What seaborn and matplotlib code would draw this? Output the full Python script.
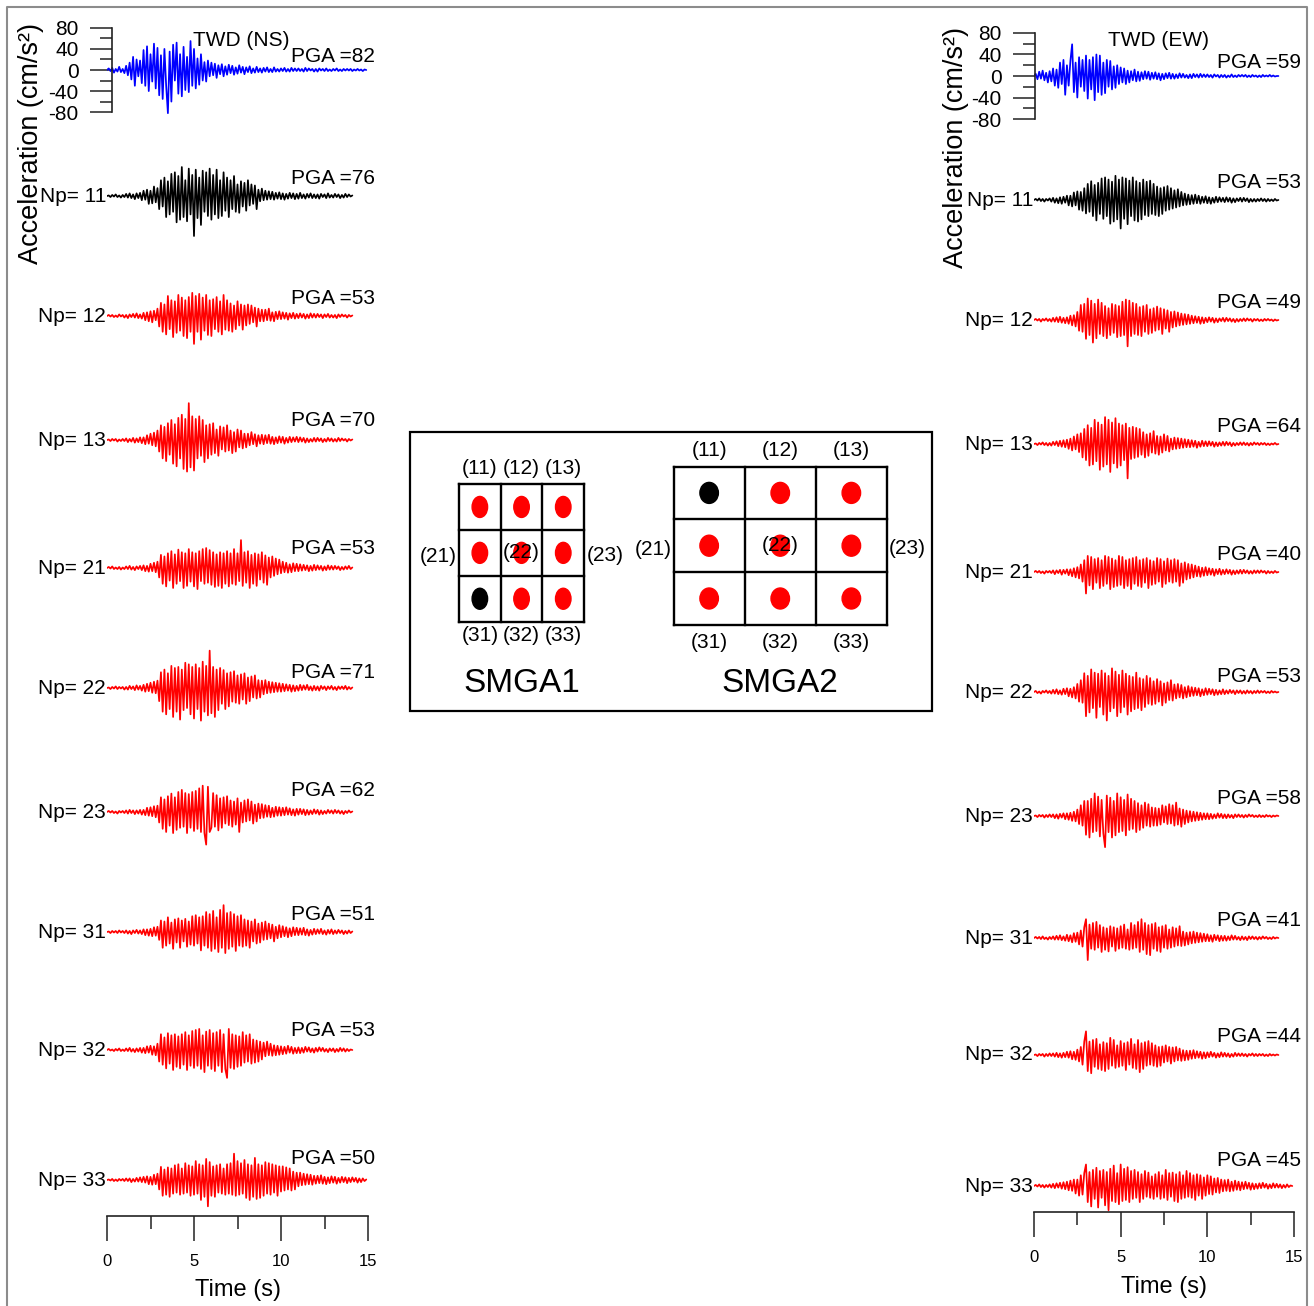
import numpy as np
import matplotlib
matplotlib.use("Agg")
import matplotlib.pyplot as plt
from matplotlib.patches import Ellipse, Rectangle
import seaborn as sns

sns.set_theme(style="white")
plt.rcParams["font.family"] = ["Liberation Sans", "DejaVu Sans"]
plt.rcParams["text.color"] = "black"
plt.rcParams["axes.unicode_minus"] = False

DT = 0.1  # sample step of the traces (s)

# -----------------------------
# NS component (left column), cm/s^2
# -----------------------------
ns_obs = [0, 3, -2, 4, -5, 2, -3, 6, -4, 2,
          -6, 8, -10, 14, -18, 25, -30, 20, -12, 18,
          -25, 38, -30, 45, -40, 30, -22, 50, -35, 42,
          -48, 28, -55, 40, -30, -82, 35, -60, 48, -20,
          52, -45, 30, -50, 44, -38, 25, -42, 55, -30,
          40, -35, 22, -28, 30, -20, 15, -22, 18, -12,
          14, -10, 12, -15, 9, -8, 11, -12, 7, -9,
          10, -6, 8, -9, 5, -7, 9, -5, 6, -8,
          5, -4, 7, -6, 3, -5, 6, -4, 3, -5,
          4, -3, 5, -4, 2, -4, 5, -3, 2, -3,
          3, -2, 4, -3, 2, -3, 4, -2, 3, -2,
          3, -2, 2, -3, 4, -2, 3, -1, 2, -3,
          2, -3, 3, -1, 2, -2, 3, -2, 1, -2,
          2, -1, 3, -2, 1, -2, 2, -1, 2, -1,
          2, -2, 1, -1, 2, -1, 1, -2, 1, 0]
ns_np11 = [0, 1, -2, 2, -1, 3, -2, 1, -3, 2,
           -2, 4, -3, 5, -4, 3, -6, 5, -4, 6,
           -8, 10, -7, 12, -15, 10, -14, 18, -12, 15,
           -25, 30, -20, 35, -40, 28, -35, 42, -30, 45,
           -50, 38, -45, 55, -40, 30, -48, 52, -35, 40,
           -76, 50, -42, 35, -55, 48, -30, 45, -38, 52,
           -45, 40, -35, 50, -42, 30, -38, 45, -28, 35,
           -40, 30, -25, 38, -30, 22, -32, 28, -20, 25,
           -28, 30, -18, 22, -15, 20, -25, 12, -10, 14,
           -8, 10, -7, 9, -6, 8, -7, 6, -5, 7,
           -6, 5, -7, 4, -5, 6, -4, 5, -6, 4,
           -5, 6, -4, 3, -5, 4, -3, 5, -4, 3,
           -4, 3, -5, 4, -2, 3, -4, 5, -3, 2,
           -3, 4, -2, 3, -4, 2, -3, 4, -2, 3, -1, 1]
ns_np12 = [0, 2, -1, 2, -2, 1, -2, 3, -1, 2,
           -3, 2, -4, 3, -2, 4, -3, 5, -4, 3,
           -5, 6, -8, 7, -10, 9, -12, 10, -8, 14,
           -20, 25, -30, 22, -35, 38, -25, 30, -40, 28,
           -32, 40, -28, 35, -38, 30, -42, 36, -30, 44,
           -53, 38, -30, 42, -45, 35, -28, 40, -36, 30,
           -38, 32, -25, 36, -30, 28, -35, 40, -26, 30,
           -28, 24, -30, 20, -25, 28, -18, 22, -26, 20,
           -18, 22, -15, 20, -12, 16, -20, 14, -10, 12,
           -10, 12, -8, 14, -9, 7, -10, 8, -6, 9,
           -6, 7, -5, 6, -7, 5, -4, 6, -5, 4,
           -4, 5, -3, 4, -5, 3, -4, 5, -3, 4,
           -3, 4, -2, 3, -4, 3, -2, 4, -3, 2,
           -3, 2, -4, 3, -2, 3, -1, 2, -3, 2, -1, 1]
ns_np13 = [0, 1, -2, 2, -1, 2, -3, 1, -2, 2,
           -2, 3, -4, 2, -3, 4, -5, 3, -4, 5,
           -6, 5, -8, 9, -7, 12, -10, 14, -12, 18,
           -22, 28, -35, 25, -40, 32, -28, 38, -45, 30,
           -50, 42, -35, 48, -55, 40, -60, 70, -52, 45,
           -58, 40, -35, 45, -30, 38, -42, 28, -35, 30,
           -28, 32, -25, 20, -30, 26, -18, 24, -22, 28,
           -20, 18, -25, 15, -22, 20, -14, 18, -16, 12,
           -14, 12, -10, 15, -8, 11, -12, 9, -7, 10,
           -8, 9, -6, 10, -7, 6, -8, 5, -6, 7,
           -5, 6, -7, 4, -5, 6, -4, 5, -3, 6,
           -4, 5, -3, 4, -5, 3, -4, 2, -3, 4,
           -3, 4, -2, 3, -4, 2, -3, 4, -2, 3,
           -3, 2, -3, 4, -2, 3, -1, 2, -3, 2, -1, 1]
ns_np21 = [0, 2, -1, 3, -2, 1, -2, 2, -3, 1,
           -2, 3, -2, 4, -3, 2, -4, 3, -2, 4,
           -4, 5, -6, 4, -7, 8, -6, 10, -8, 12,
           -18, 25, -30, 22, -35, 28, -24, 32, -38, 26,
           -30, 35, -25, 30, -38, 28, -34, 36, -26, 30,
           -35, 28, -40, 32, -25, 36, -30, 38, -28, 34,
           -32, 30, -36, 26, -34, 30, -38, 28, -30, 32,
           -35, 28, -30, 36, -32, 28, -25, 53, -34, 30,
           -28, 32, -38, 25, -30, 28, -34, 26, -22, 30,
           -28, 24, -32, 20, -18, 22, -15, 18, -12, 16,
           -10, 12, -8, 10, -9, 7, -8, 9, -6, 8,
           -6, 7, -5, 6, -4, 5, -6, 4, -5, 6,
           -4, 5, -3, 4, -5, 3, -4, 5, -3, 4,
           -3, 4, -2, 3, -4, 2, -3, 3, -2, 4, -2, 1]
ns_np22 = [0, 1, -2, 2, -1, 3, -2, 2, -1, 2,
           -3, 2, -3, 4, -2, 3, -4, 5, -3, 4,
           -5, 6, -7, 8, -6, 10, -9, 12, -10, 14,
           -25, 30, -45, 35, -50, 28, -40, 42, -55, 38,
           -45, 40, -60, 35, -42, 48, -38, 45, -50, 40,
           -58, 45, -40, 38, -62, 50, -45, 42, -52, 71,
           -48, 40, -55, 35, -42, 38, -30, 34, -40, 28,
           -35, 30, -26, 32, -28, 24, -30, 26, -22, 28,
           -30, 20, -25, 22, -18, 24, -20, 15, -18, 14,
           -12, 15, -10, 12, -9, 11, -8, 10, -7, 9,
           -7, 8, -6, 7, -5, 6, -7, 5, -6, 4,
           -5, 6, -4, 5, -3, 6, -4, 3, -5, 4,
           -4, 3, -5, 4, -2, 3, -4, 3, -2, 4,
           -3, 2, -4, 3, -2, 3, -2, 4, -3, 2, -2, 1]
ns_np23 = [0, 2, -1, 2, -2, 1, -3, 2, -1, 2,
           -2, 3, -3, 4, -2, 3, -4, 3, -3, 4,
           -5, 4, -6, 8, -7, 9, -8, 11, -10, 12,
           -20, 28, -32, 24, -38, 30, -26, 35, -40, 28,
           -34, 38, -30, 42, -28, 36, -40, 34, -30, 38,
           -36, 40, -32, 45, -38, 50, -40, -62, 48, -38,
           -30, 36, -28, 32, -35, 26, -30, 28, -22, 30,
           -25, 22, -28, 20, -24, 26, -38, 18, -20, 22,
           -18, 24, -16, 20, -22, 14, -18, 16, -12, 15,
           -11, 13, -9, 12, -10, 8, -9, 10, -7, 9,
           -7, 8, -6, 9, -5, 7, -6, 5, -7, 6,
           -5, 6, -4, 5, -6, 4, -5, 3, -4, 5,
           -3, 4, -5, 3, -4, 2, -3, 4, -2, 3,
           -3, 4, -2, 3, -3, 2, -4, 2, -2, 3, -1, 1]
ns_np31 = [0, 1, -2, 2, -1, 2, -2, 3, -1, 2,
           -2, 3, -3, 2, -4, 3, -2, 4, -3, 3,
           -4, 5, -6, 5, -7, 6, -8, 9, -7, 10,
           -15, 22, -30, 20, -26, 28, -22, 18, -32, 24,
           -20, 26, -30, 22, -18, 25, -28, 20, -24, 30,
           -26, 32, -22, 28, -35, 30, -26, 38, -30, 34,
           -36, 40, -32, 28, -38, 42, -30, 51, -40, 36,
           -32, 38, -28, 34, -36, 30, -26, 32, -28, 24,
           -26, 22, -30, 20, -18, 24, -22, 16, -20, 18,
           -15, 20, -14, 16, -12, 14, -18, 10, -12, 13,
           -10, 11, -8, 9, -10, 7, -8, 9, -6, 8,
           -6, 7, -5, 8, -6, 5, -7, 4, -5, 6,
           -4, 5, -3, 6, -4, 3, -5, 4, -3, 5,
           -4, 3, -3, 4, -2, 3, -4, 2, -3, 3, -2, 1]
ns_np32 = [0, 2, -1, 1, -2, 2, -1, 3, -2, 1,
           -2, 3, -2, 4, -3, 2, -4, 3, -3, 4,
           -5, 4, -6, 7, -5, 8, -9, 7, -10, 12,
           -22, 30, -28, 24, -35, 32, -26, 28, -38, 30,
           -32, 26, -35, 30, -28, 34, -38, 28, -30, 36,
           -34, 38, -30, 40, -36, 28, -42, 35, -30, 38,
           -36, 32, -40, 34, -30, 38, -42, 30, -36, -53,
           40, -34, 30, -36, 28, -32, 26, -30, 34, -24,
           28, -22, 30, -26, 20, -24, 18, -22, 16, -18,
           14, -12, 16, -10, 12, -11, 9, -10, 8, -9,
           7, -8, 6, -7, 8, -5, 6, -7, 4, -6,
           5, -6, 4, -5, 6, -3, 5, -4, 3, -5,
           4, -3, 5, -2, 4, -3, 2, -4, 3, -2,
           3, -4, 2, -3, 4, -2, 3, -3, 2, -2, 1, 0]
ns_np33 = [0, 1, -1, 2, -2, 1, -2, 2, -1, 2,
           -2, 3, -2, 3, -4, 2, -3, 4, -3, 5,
           -4, 6, -5, 7, -8, 6, -9, 10, -8, 12,
           -18, 25, -30, 20, -28, 24, -32, 22, -26, 28,
           -24, 30, -28, 22, -26, 32, -24, 28, -30, 26,
           -28, 36, -26, 30, -38, 28, -32, 40, -50, 34,
           -30, 26, -32, 28, -24, 30, -26, 22, -28, 30,
           -26, 32, -28, 50, -30, 36, -28, 32, -26, 38,
           -34, 30, -38, 28, -32, 42, -36, 30, -34, 28,
           -30, 34, -26, 32, -28, 30, -24, 28, -30, 26,
           -22, 26, -20, 24, -18, 22, -20, 16, -18, 14,
           -12, 14, -10, 12, -9, 11, -8, 10, -9, 8,
           -7, 8, -6, 9, -7, 6, -8, 5, -6, 7,
           -5, 6, -7, 4, -5, 6, -4, 5, -6, 4,
           -4, 5, -3, 4, -5, 3, -4, 3, -2, 1]

# -----------------------------
# EW component (right column), cm/s^2
# -----------------------------
ew_obs = [0, 4, -6, 8, -5, 10, -8, 6, -12, 9,
          -10, 14, -18, 12, -22, 25, -15, 30, -35, 20,
          -18, 28, 59, -30, 25, -40, 35, -20, 30, -28,
          38, -42, 30, -25, 35, -45, 40, -30, 38, -35,
          25, -32, 30, -20, 28, -25, 18, -22, 20, -15,
          16, -12, 14, -15, 10, -12, 9, -8, 12, -10,
          8, -9, 7, -6, 9, -5, 8, -7, 6, -5,
          7, -6, 5, -8, 4, -6, 5, -4, 6, -5,
          4, -5, 3, -4, 5, -3, 4, -3, 2, -4,
          3, -4, 4, -2, 3, -3, 4, -2, 3, -2,
          3, -2, 2, -3, 3, -1, 2, -3, 2, -2,
          2, -3, 1, -2, 3, -2, 1, -2, 2, -1,
          2, -1, 2, -2, 1, -2, 2, -1, 1, -2,
          1, -2, 2, -1, 1, -1, 2, -1, 1, -1, 0, 0]
ew_np11 = [0, 2, -1, 3, -2, 2, -3, 2, -1, 3,
           -3, 4, -5, 3, -6, 5, -7, 6, -5, 8,
           -10, 8, -12, 14, -10, 16, -18, 15, -20, 22,
           -25, 30, -22, 35, -30, 28, -38, 32, -26, 40,
           -35, 42, -30, 38, -44, 34, -40, 45, -36, 38,
           -53, 42, -35, 40, -45, 36, -30, 42, -38, 35,
           -40, 32, -36, 38, -28, 34, -30, 36, -26, 30,
           -28, 25, -30, 22, -26, 24, -20, 26, -18, 22,
           -16, 18, -14, 20, -12, 15, -10, 12, -9, 10,
           -8, 9, -7, 10, -6, 8, -7, 6, -5, 7,
           -6, 5, -7, 4, -5, 6, -4, 5, -3, 4,
           -4, 5, -3, 4, -5, 3, -4, 3, -2, 4,
           -3, 4, -2, 3, -4, 2, -3, 2, -3, 2,
           -2, 3, -2, 2, -3, 2, -2, 1, -2, 2, -1, 0]
ew_np12 = [0, 2, -1, 2, -3, 2, -1, 3, -2, 2,
           -3, 4, -3, 5, -4, 6, -5, 4, -6, 5,
           -7, 8, -10, 9, -12, 15, -20, 28, -22, 30,
           -35, 40, -28, 36, -42, 30, -34, 38, -26, 32,
           -30, 26, -34, 22, -28, 30, -24, 28, -32, 26,
           -30, 34, -28, 38, -49, 36, -30, 32, -26, 30,
           -28, 24, -30, 26, -22, 28, -26, 20, -24, 22,
           -20, 25, -18, 22, -26, 20, -16, 18, -22, 15,
           -14, 16, -12, 14, -10, 12, -9, 11, -8, 10,
           -7, 8, -6, 7, -5, 6, -7, 5, -6, 4,
           -4, 5, -3, 4, -5, 3, -4, 3, -2, 4,
           -3, 4, -2, 3, -3, 2, -4, 2, -3, 2,
           -2, 3, -2, 3, -1, 2, -3, 2, -1, 2,
           -2, 1, -2, 2, -1, 2, -1, 1, -2, 1, -1, 0]
ew_np13 = [0, 1, -2, 2, -1, 3, -2, 2, -3, 2,
           -3, 4, -2, 5, -4, 6, -5, 7, -6, 8,
           -9, 10, -12, 14, -10, 18, -15, 20, -25, 28,
           -30, 35, -40, 30, -38, 45, -32, 40, -48, 36,
           -42, 50, -38, 45, -52, 40, -36, 48, -44, 38,
           -40, 35, -30, 38, -64, 30, -28, 32, -26, 30,
           -24, 28, -20, 22, -25, 18, -22, 20, -16, 24,
           -18, 15, -20, 14, -16, 18, -12, 15, -14, 10,
           -10, 12, -9, 11, -8, 10, -7, 9, -6, 8,
           -6, 7, -5, 6, -7, 4, -5, 6, -4, 5,
           -4, 5, -3, 4, -5, 3, -4, 3, -3, 4,
           -3, 4, -2, 3, -4, 2, -3, 2, -2, 3,
           -2, 3, -2, 2, -3, 2, -2, 3, -1, 2,
           -2, 2, -1, 2, -2, 1, -2, 1, -1, 2, -1, 0]
ew_np21 = [0, 2, -1, 2, -2, 1, -3, 2, -1, 2,
           -2, 3, -4, 3, -2, 4, -5, 4, -3, 5,
           -6, 5, -8, 7, -10, 9, -12, 14, -18, 22,
           -40, 30, -25, 28, -32, 24, -20, 26, -30, 22,
           -26, 30, -22, 28, -32, 25, -28, 22, -26, 30,
           -24, 28, -30, 22, -26, 24, -32, 26, -22, 28,
           -26, 22, -28, 24, -20, 26, -30, 22, -24, 20,
           -22, 26, -18, 24, -28, 20, -22, 25, -18, 22,
           -20, 24, -18, 22, -26, 16, -20, 18, -14, 15,
           -12, 14, -10, 12, -8, 10, -9, 8, -7, 9,
           -6, 7, -5, 6, -7, 5, -4, 6, -5, 4,
           -4, 5, -3, 4, -5, 3, -4, 3, -3, 4,
           -3, 4, -2, 3, -3, 2, -3, 3, -2, 3,
           -2, 3, -1, 2, -3, 2, -2, 1, -2, 2, -1, 0]
ew_np22 = [0, 2, -2, 1, -3, 2, -1, 3, -2, 2,
           -3, 4, -3, 5, -4, 3, -5, 6, -4, 7,
           -8, 6, -10, 9, -12, 15, -18, 22, -20, 35,
           -45, 30, -38, 42, -30, 36, -48, 34, -28, 40,
           -42, 35, -53, 30, -36, 44, -30, 38, -45, 32,
           -38, 40, -28, 34, -42, 30, -36, 28, -32, 36,
           -30, 26, -34, 24, -28, 30, -22, 26, -24, 20,
           -22, 24, -18, 20, -25, 16, -20, 18, -15, 22,
           -16, 14, -12, 15, -10, 13, -12, 9, -10, 11,
           -8, 9, -7, 8, -6, 7, -8, 5, -6, 7,
           -5, 6, -4, 5, -6, 4, -5, 3, -4, 5,
           -4, 3, -3, 4, -2, 3, -4, 3, -2, 3,
           -3, 2, -3, 3, -2, 2, -3, 2, -2, 3,
           -2, 2, -1, 2, -2, 1, -2, 2, -1, 1, -1, 0]
ew_np23 = [0, 1, -2, 2, -1, 2, -3, 2, -2, 3,
           -2, 3, -4, 3, -5, 4, -3, 5, -6, 5,
           -7, 6, -9, 8, -10, 12, -15, 20, -18, 28,
           -35, 28, -40, 32, -30, 42, -28, 36, -38, 30,
           -32, -58, 38, -30, 34, -40, 28, -36, 42, -30,
           35, -28, 30, -36, 40, -26, 32, -24, 28, -30,
           24, -26, 20, -22, 25, -18, 22, -20, 16, -18,
           15, -18, 14, -16, 20, -12, 18, -15, 22, -14,
           20, -18, 25, -16, 14, -20, 12, -15, 10, -12,
           9, -10, 8, -9, 7, -8, 6, -7, 5, -6,
           5, -6, 4, -5, 3, -4, 5, -3, 4, -4,
           3, -4, 3, -3, 2, -4, 3, -2, 3, -2,
           2, -3, 2, -2, 3, -1, 2, -2, 1, -2,
           2, -2, 1, -2, 2, -1, 1, -2, 1, -1, 1, 0]
ew_np31 = [0, 2, -1, 2, -2, 3, -2, 1, -3, 2,
           -2, 3, -3, 4, -3, 5, -4, 3, -5, 6,
           -6, 5, -8, 9, -7, 10, -12, 14, -16, 20,
           35, -41, 25, -20, 28, -22, 30, -18, 24, -26,
           20, -22, 18, -25, 22, -16, 20, -24, 18, -20,
           22, -18, 25, -20, 16, -22, 28, -20, 24, -18,
           30, -26, 35, -22, 28, -30, 24, -32, 26, -20,
           28, -24, 20, -26, 22, -18, 24, -20, 16, -18,
           20, -16, 18, -14, 22, -15, 12, -14, 10, -12,
           11, -10, 12, -9, 10, -8, 9, -7, 8, -6,
           7, -6, 5, -7, 6, -4, 5, -6, 4, -5,
           4, -5, 3, -4, 5, -3, 4, -3, 2, -4,
           3, -3, 2, -4, 3, -2, 3, -2, 2, -3,
           2, -2, 3, -1, 2, -2, 1, -2, 2, -1, 1, 0]
ew_np32 = [0, 1, -2, 2, -1, 2, -3, 2, -2, 3,
           -2, 3, -3, 4, -4, 3, -5, 4, -4, 6,
           -5, 7, -8, 6, -9, 10, -12, 15, -18, 25,
           44, -30, 25, -34, 28, -22, 30, -26, 20, -28,
           24, -30, 22, -26, 32, -20, 28, -24, 18, -22,
           26, -20, 22, -28, 24, -18, 30, -24, 20, -26,
           28, -32, 22, -26, 24, -20, 26, -18, 22, -20,
           18, -22, 15, -20, 16, -14, 18, -12, 15, -16,
           14, -12, 15, -10, 12, -11, 9, -10, 8, -9,
           8, -7, 9, -6, 7, -5, 6, -7, 5, -6,
           5, -4, 6, -3, 4, -5, 3, -4, 5, -3,
           4, -3, 3, -4, 2, -3, 4, -2, 3, -2,
           3, -2, 2, -3, 2, -1, 3, -2, 2, -2,
           2, -1, 2, -2, 1, -2, 2, -1, 1, -1, 1, 0]
ew_np33 = [0, 2, -1, 3, -2, 2, -3, 2, -2, 3,
           -3, 4, -4, 5, -3, 6, -5, 7, -6, 8,
           -8, 10, -9, 12, -14, 12, -18, 20, -16, 24,
           40, -30, 26, -38, 30, -24, 34, -40, 28, -22,
           30, -36, 26, -45, 32, -28, 38, -30, 24, -34,
           40, -28, 32, -26, 35, -30, 28, -24, 30, -22,
           26, -30, 22, -24, 28, -20, 25, -22, 18, -24,
           22, -20, 26, -24, 20, -22, 30, -26, 24, -20,
           25, -28, 22, -30, 26, -24, 20, -22, 28, -20,
           24, -22, 20, -26, 22, -18, 20, -24, 16, -18,
           20, -15, 18, -16, 14, -12, 15, -13, 12, -10,
           11, -9, 12, -10, 8, -9, 10, -7, 8, -8,
           7, -6, 8, -5, 6, -7, 5, -6, 4, -5,
           5, -4, 6, -3, 4, -5, 3, -4, 5, -3,
           4, -3, 3, -4, 2, -3, 3, -2, 1, 0]

ns_traces = [ns_obs, ns_np11, ns_np12, ns_np13, ns_np21, ns_np22, ns_np23, ns_np31, ns_np32, ns_np33]
ew_traces = [ew_obs, ew_np11, ew_np12, ew_np13, ew_np21, ew_np22, ew_np23, ew_np31, ew_np32, ew_np33]
np_labels = ["", "Np= 11", "Np= 12", "Np= 13", "Np= 21", "Np= 22", "Np= 23", "Np= 31", "Np= 32", "Np= 33"]
ns_pga = [82, 76, 53, 70, 53, 71, 62, 51, 53, 50]
ew_pga = [59, 53, 49, 64, 40, 53, 58, 41, 44, 45]
trace_colors = ["#0000ff", "black"] + ["#ff0000"] * 8

# sub-fault grid of each SMGA and the cell used as the starting point (black)
cell_ids = [["11", "12", "13"], ["21", "22", "23"], ["31", "32", "33"]]
smga_names = ["SMGA1", "SMGA2"]
smga_start = ["31", "11"]

# -----------------------------
# layout (pixels)
# -----------------------------
W, H = 1314, 1306
cols = [
    dict(x0=107, x1=368, top=20, bottom=1216, scale=1.9, spine_t=0.29,
         rows=[70, 196, 316, 440, 568, 688, 812, 932, 1050, 1180],
         pga_rows=[57, 179, 299, 421, 549, 672, 790, 915, 1030, 1158], pga_x=375,
         title="TWD (NS)", title_xy=(241, 40), ylab_xy=(31, 144), xlab_xy=(238, 1290)),
    dict(x0=1034, x1=1294, top=20, bottom=1212, scale=1.86, spine_t=0.06,
         rows=[76, 200, 320, 444, 572, 692, 816, 938, 1055, 1186],
         pga_rows=[62, 183, 303, 427, 555, 676, 798, 920, 1036, 1160], pga_x=1301,
         title="TWD (EW)", title_xy=(1158, 41), ylab_xy=(956, 148), xlab_xy=(1164, 1287)),
]
grids = [dict(x0=459, y0=484, cw=41.7, ch=45.9, dot_w=15.5, dot_h=21, top_gap=15, bot_gap=14, side_gap=21, name_y=683),
         dict(x0=673.6, y0=466.5, cw=71.1, ch=52.8, dot_w=18.5, dot_h=21, top_gap=15.5, bot_gap=18, side_gap=20, name_y=683)]

fig = plt.figure(figsize=(W / 100, H / 100), dpi=100)
fig.patch.set_facecolor("white")


def px_axes(x0, x1, top, bottom):
    return fig.add_axes([x0 / W, 1 - bottom / H, (x1 - x0) / W, (bottom - top) / H])


for col, traces, pga in zip(cols, [ns_traces, ew_traces], [ns_pga, ew_pga]):
    ax = px_axes(col["x0"], col["x1"], col["top"], col["bottom"])
    s = col["scale"]
    base = col["rows"][0]
    ax.set_xlim(0, 15)
    ax.set_ylim(-(col["bottom"] - base) * s, (base - col["top"]) * s)
    ax.patch.set_alpha(0)
    for i, vals in enumerate(traces):
        off = -(col["rows"][i] - base) * s
        t = np.arange(len(vals)) * DT
        sns.lineplot(x=t, y=np.array(vals, float) + off, ax=ax, color=trace_colors[i],
                     linewidth=1.25, estimator=None, sort=False, legend=False)
    for sp in ["top", "right"]:
        ax.spines[sp].set_visible(False)
    ax.spines["left"].set_bounds(-80, 80)
    ax.spines["left"].set_position(("data", col["spine_t"]))
    ax.spines["bottom"].set_bounds(0, 15)
    for sp in ["left", "bottom"]:
        ax.spines[sp].set_color("#222222")
        ax.spines[sp].set_linewidth(1.2)
    ax.set_yticks([-80, -40, 0, 40, 80])
    ax.set_yticklabels(["-80", "-40", "0", "40", "80"])
    ax.set_yticks([-60, -20, 20, 60], minor=True)
    ax.set_xticks([0, 5, 10, 15])
    ax.set_xticklabels(["0", "5", "10", "15"])
    ax.set_xticks([2.5, 7.5, 12.5], minor=True)
    ax.tick_params(axis="y", which="major", left=True, direction="out", length=16, width=1.1,
                   labelsize=15, pad=8, colors="#222222", labelcolor="black")
    ax.tick_params(axis="y", which="minor", left=True, direction="out", length=8.5, width=1.1,
                   colors="#222222")
    ax.tick_params(axis="x", which="major", bottom=True, direction="out", length=18, width=1.1,
                   labelsize=12, pad=9, colors="#222222", labelcolor="black")
    ax.tick_params(axis="x", which="minor", bottom=True, direction="out", length=9, width=1.1,
                   colors="#222222")
    ax.set_xlabel("")
    ax.set_ylabel("")

# overlay in pixel coordinates for texts, frame and the inset
ov = fig.add_axes([0, 0, 1, 1])
ov.set_xlim(0, W)
ov.set_ylim(H, 0)
ov.axis("off")

for col, pga in zip(cols, [ns_pga, ew_pga]):
    for i in range(len(col["rows"])):
        if np_labels[i]:
            ov.text(col["x0"] - 1, col["rows"][i], np_labels[i], ha="right", va="center", fontsize=15)
        ov.text(col["pga_x"], col["pga_rows"][i], f"PGA ={pga[i]}", ha="right", va="center", fontsize=15)
    ov.text(*col["title_xy"], col["title"], ha="center", va="center", fontsize=15)
    ov.text(*col["ylab_xy"], "Acceleration (cm/s²)", ha="center", va="center", rotation=90, fontsize=19.5)
    ov.text(*col["xlab_xy"], "Time (s)", ha="center", va="center", fontsize=17)

# outer frame
ov.plot([7, 7, 1307, 1307], [H + 5, 7, 7, H + 5], color="#8c8c8c", linewidth=1.5, clip_on=False)

# inset with the two SMGA sub-fault grids
ov.add_patch(Rectangle((410, 432), 522, 279, fill=False, edgecolor="black", linewidth=1.6))
for g, name, start in zip(grids, smga_names, smga_start):
    x0, y0, cw, ch = g["x0"], g["y0"], g["cw"], g["ch"]
    for k in range(4):
        ov.plot([x0 + k * cw, x0 + k * cw], [y0, y0 + 3 * ch], color="black", linewidth=1.7,
                solid_capstyle="projecting")
        ov.plot([x0, x0 + 3 * cw], [y0 + k * ch, y0 + k * ch], color="black", linewidth=1.7,
                solid_capstyle="projecting")
    for r in range(3):
        for c in range(3):
            cx, cy = x0 + (c + 0.5) * cw, y0 + (r + 0.5) * ch
            color = "black" if cell_ids[r][c] == start else "#ff0000"
            ov.add_patch(Ellipse((cx, cy), g["dot_w"], g["dot_h"], color=color, zorder=3))
    for c in range(3):
        cx = x0 + (c + 0.5) * cw
        ov.text(cx, y0 - g["top_gap"], f"({cell_ids[0][c]})", ha="center", va="center", fontsize=15)
        ov.text(cx, y0 + 3 * ch + g["bot_gap"], f"({cell_ids[2][c]})", ha="center", va="center", fontsize=15)
    mid = y0 + 1.5 * ch
    ov.text(x0 - g["side_gap"], mid + 4, f"({cell_ids[1][0]})", ha="center", va="center", fontsize=15)
    ov.text(x0 + 3 * cw + g["side_gap"], mid + 3, f"({cell_ids[1][2]})", ha="center", va="center", fontsize=15)
    ov.text(x0 + 1.5 * cw, mid, f"({cell_ids[1][1]})", ha="center", va="center", fontsize=15, zorder=4)
    ov.text(x0 + 1.5 * cw, g["name_y"], name, ha="center", va="center", fontsize=24)

fig.savefig("out.png", dpi=100, facecolor="white")
